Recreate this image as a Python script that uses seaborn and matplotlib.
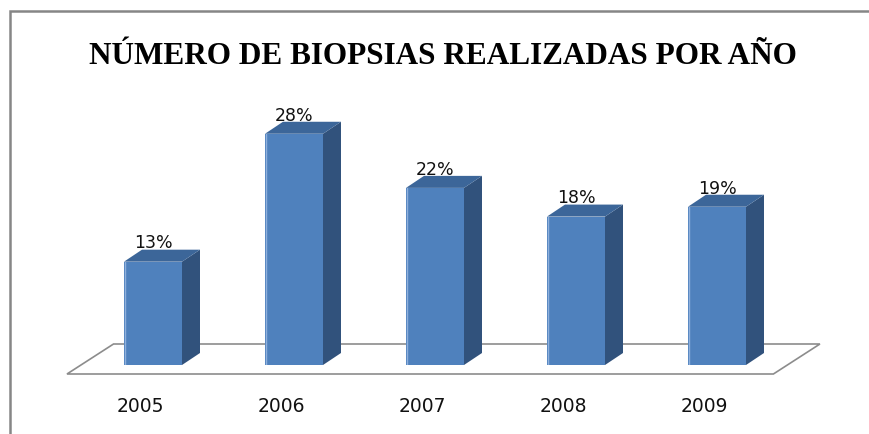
import numpy as np
import pandas as pd
import matplotlib
matplotlib.use('Agg')
import matplotlib.pyplot as plt
import matplotlib.transforms as mtransforms
from matplotlib.patches import Polygon, Rectangle
import seaborn as sns

# data (bar heights estimated, labels show them rounded)
years = ['2005', '2006', '2007', '2008', '2009']
percent = [12.6, 28.2, 21.6, 18.1, 19.3]
title = 'NÚMERO DE BIOPSIAS REALIZADAS POR AÑO'

df = pd.DataFrame({'year': years, 'pct': percent})

sns.set_style('white')
plt.rcParams['font.family'] = ['DejaVu Sans']

W, H = 869, 434
fig = plt.figure(figsize=(W / 100, H / 100), dpi=100)
fig.patch.set_facecolor('white')

# axes placed so a category step is ~141 px and 1% is ~8.2 px
px_cat = 141.0
px_pct = 8.2
ymax = 35
ax_left, ax_bottom = 82.5, 69.0
ax = fig.add_axes([ax_left / W, ax_bottom / H, 5 * px_cat / W, ymax * px_pct / H])

front = '#4F81BD'
side = '#31527C'
top = '#3C6699'

sns.barplot(data=df, x='year', y='pct', color=front, width=58 / px_cat,
            saturation=1, ax=ax, zorder=3, edgecolor='none')
ax.set_xlim(-0.5, 4.5)
ax.set_ylim(0, ymax)

# depth of the pseudo 3d bars
dx = 18 / px_cat
dy = 12 / px_pct

# floor of the chart
floor = Polygon([(-0.61, -9 / px_pct), (4.40, -9 / px_pct),
                 (4.73, 21 / px_pct), (-0.28, 21 / px_pct)],
                closed=True, facecolor='white', edgecolor='#8c8c8c',
                lw=1.2, zorder=1, clip_on=False)
ax.add_patch(floor)

for p, v in zip(ax.patches[:len(percent)], percent):
    x0, w, h = p.get_x(), p.get_width(), p.get_height()
    ax.add_patch(Polygon([(x0 + w, 0), (x0 + w + dx, dy), (x0 + w + dx, h + dy), (x0 + w, h)],
                         closed=True, facecolor=side, edgecolor='none', zorder=2, clip_on=False))
    ax.add_patch(Polygon([(x0, h), (x0 + dx, h + dy), (x0 + w + dx, h + dy), (x0 + w, h)],
                         closed=True, facecolor=top, edgecolor='none', zorder=2, clip_on=False))
    ax.plot([x0 + 0.004, x0 + 0.004], [0, h], color='#8FB0DC', lw=1, zorder=4)
    ax.text(x0 + w / 2, h + dy + 0.15, f'{v:.0f}%', ha='center', va='baseline',
            fontsize=12.5, color='#111111', zorder=5)

ax.set_xlabel('')
ax.set_ylabel('')
ax.set_yticks([])
ax.tick_params(axis='x', length=0, pad=23, labelsize=13.5, labelcolor='#111111')
shift = mtransforms.ScaledTranslation(-13 / 100, 0, fig.dpi_scale_trans)
for lab in ax.get_xticklabels():
    lab.set_transform(lab.get_transform() + shift)
for s in ax.spines.values():
    s.set_visible(False)
ax.patch.set_alpha(0)

fig.text(443 / W, 1 - 56 / H, title, ha='center', va='center',
         fontsize=22.5, fontweight='bold', family='Liberation Serif', color='black')

# grey frame cut off at right and bottom
fig.add_artist(Rectangle((10 / W, -0.2), 1.2, 1.2 - 11 / H,
                         transform=fig.transFigure, facecolor='none',
                         edgecolor='#868686', lw=1.8))

fig.savefig('out.png', dpi=100)
